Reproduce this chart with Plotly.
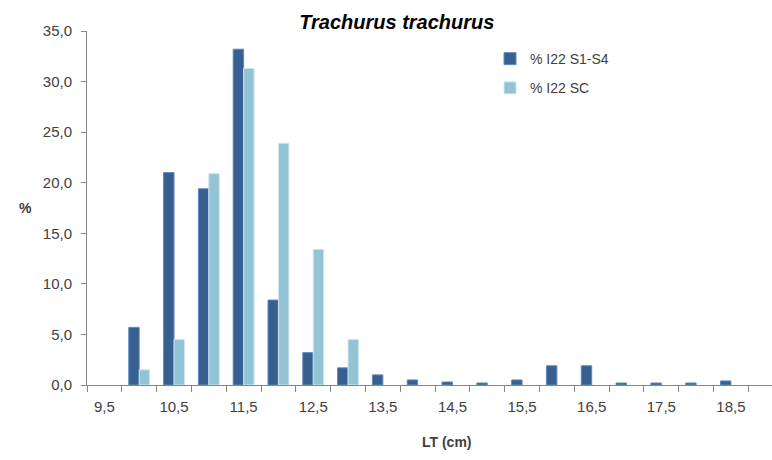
import plotly.graph_objects as go

# Length classes (cm) and percentage frequencies for each sample (None = no fish in class)
lt_classes = [9.5, 10.0, 10.5, 11.0, 11.5, 12.0, 12.5, 13.0, 13.5, 14.0,
              14.5, 15.0, 15.5, 16.0, 16.5, 17.0, 17.5, 18.0, 18.5, 19.0]
pct_s1_s4 = [None, 5.7, 21.0, 19.4, 33.2, 8.4, 3.2, 1.7, 1.0, 0.5,
             0.3, 0.2, 0.5, 1.9, 1.9, 0.2, 0.2, 0.2, 0.4, None]
pct_sc = [None, 1.5, 4.5, 20.9, 31.3, 23.9, 13.4, 4.5, None, None,
          None, None, None, None, None, None, None, None, None, None]

label_vals = [9.5, 10.5, 11.5, 12.5, 13.5, 14.5, 15.5, 16.5, 17.5, 18.5]
label_text = ["9,5", "10,5", "11,5", "12,5", "13,5", "14,5", "15,5", "16,5", "17,5", "18,5"]
y_vals = [0, 5, 10, 15, 20, 25, 30, 35]
y_text = ["0,0", "5,0", "10,0", "15,0", "20,0", "25,0", "30,0", "35,0"]

FONT = "Liberation Sans, Arial, sans-serif"
AXIS_GREY = "#868686"
TEXT_GREY = "#404040"

W, H = 772, 460
L, R, T, B = 87, 0, 31, 75
pw, ph = W - L - R, H - T - B

fig = go.Figure()
fig.add_trace(go.Bar(
    x=lt_classes, y=pct_s1_s4, name="% I22 S1-S4",
    marker=dict(color="#375F8F", line=dict(color="#5E88C0", width=1)),
    legendgroup="a",
))
fig.add_trace(go.Bar(
    x=lt_classes, y=pct_sc, name="% I22 SC",
    marker=dict(color="#93C4D6", line=dict(color="#CFE6EF", width=1)),
    legendgroup="b",
))

fig.update_layout(
    width=W, height=H,
    margin=dict(l=L, r=R, t=T, b=B),
    paper_bgcolor="white", plot_bgcolor="white",
    barmode="group", bargap=0.4, bargroupgap=0,
    font=dict(family=FONT, size=15, color=TEXT_GREY),
    title=dict(
        text="Trachurus trachurus",
        font=dict(family=FONT, size=20, color="black", weight="bold", style="italic"),
        x=0.514, xref="container", xanchor="center",
        y=1 - 22 / H, yref="container", yanchor="middle",
    ),
    legend=dict(
        x=(490 - L) / pw, y=0.966, xanchor="left", yanchor="top",
        font=dict(family=FONT, size=14, color=TEXT_GREY),
        bgcolor="rgba(0,0,0,0)", traceorder="grouped", tracegroupgap=8,
        itemwidth=30,
    ),
    showlegend=True,
)

fig.update_xaxes(
    range=[9.25, 19.09],
    tickmode="array", tickvals=label_vals, ticktext=label_text,
    ticks="", ticklabelstandoff=8,
    showline=True, linecolor=AXIS_GREY, linewidth=1,
    showgrid=False, zeroline=False,
    minor=dict(tickmode="linear", tick0=9.25, dtick=0.5,
               ticks="outside", ticklen=6, tickcolor=AXIS_GREY, tickwidth=1,
               showgrid=False),
    tickfont=dict(family=FONT, size=15, color=TEXT_GREY),
)
fig.update_yaxes(
    range=[0, 35],
    tickmode="array", tickvals=y_vals, ticktext=y_text,
    ticks="outside", ticklen=5, tickcolor=AXIS_GREY,
    ticklabelstandoff=6,
    showline=True, linecolor=AXIS_GREY, linewidth=1,
    showgrid=False, zeroline=False,
    tickfont=dict(family=FONT, size=15, color=TEXT_GREY),
)

# Axis titles
fig.add_annotation(text="<b>LT (cm)</b>", x=(447 - L) / pw, y=(H - 452 - B) / ph,
                   xref="paper", yref="paper", showarrow=False,
                   font=dict(family=FONT, size=14, color=TEXT_GREY))
fig.add_annotation(text="<b>%</b>", x=(17 - L) / pw, y=(H - 208 - B) / ph,
                   xref="paper", yref="paper", showarrow=False,
                   font=dict(family=FONT, size=14, color=TEXT_GREY))

fig.write_html("out.html")
